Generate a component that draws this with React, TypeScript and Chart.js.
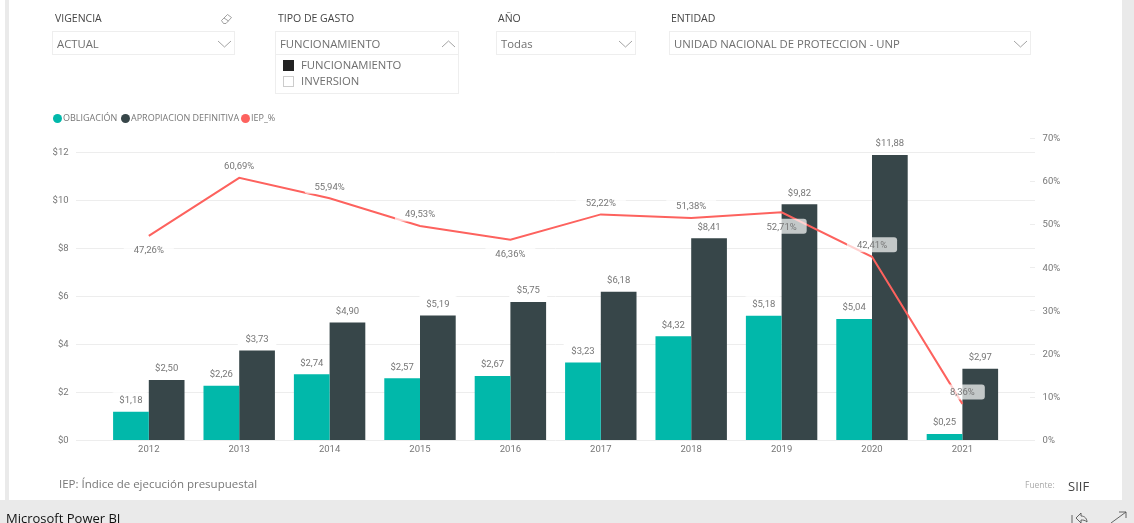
import React, { useEffect, useRef } from "react";
import { Chart, registerables } from "chart.js";

Chart.register(...registerables);

const years = ["2012", "2013", "2014", "2015", "2016", "2017", "2018", "2019", "2020", "2021"];
const obligacion = [1.18, 2.26, 2.74, 2.57, 2.67, 3.23, 4.32, 5.18, 5.04, 0.25];
const apropiacion = [2.5, 3.73, 4.9, 5.19, 5.75, 6.18, 8.41, 9.82, 11.88, 2.97];
const iep = [47.26, 60.69, 55.94, 49.53, 46.36, 52.22, 51.38, 52.71, 42.41, 8.36];
const iepBelow = [true, false, false, false, true, false, false, true, false, false];

const TEAL = "#01B8AA";
const DARK = "#374649";
const RED = "#FD625E";
const TXT = "#777777";
const LABEL_FONT = "9.5px Roboto";
const UI_FONT = "'Open Sans', sans-serif";

const comma = (v: number) => v.toFixed(2).replace(".", ",");

function labelBox(ctx: CanvasRenderingContext2D, cx: number, cy: number, w: number, fill: string, maxRight?: number) {
  const left = cx - w / 2;
  let width = w;
  if (maxRight !== undefined && left + width > maxRight) width = maxRight - left;
  ctx.fillStyle = fill;
  ctx.beginPath();
  (ctx as any).roundRect(left, cy - 7.5, width, 15, 3);
  ctx.fill();
}

const pbiPlugin = {
  id: "pbi",
  beforeDatasetsDraw(chart: any) {
    const { ctx, scales } = chart;
    const y = scales.y;
    const y1 = scales.y1;
    ctx.save();
    ctx.strokeStyle = "#EDEDED";
    ctx.lineWidth = 1;
    [0, 2, 4, 6, 8, 10, 12].forEach((v) => {
      const p = Math.round(y.getPixelForValue(v)) + 0.5;
      ctx.beginPath();
      ctx.moveTo(76, p);
      ctx.lineTo(1035, p);
      ctx.stroke();
    });
    [0, 10, 20, 30, 40, 50, 60, 70].forEach((v) => {
      const p = Math.round(y1.getPixelForValue(v)) + 0.5;
      ctx.beginPath();
      ctx.moveTo(1030, p);
      ctx.lineTo(1035, p);
      ctx.stroke();
    });
    ctx.font = LABEL_FONT;
    [0, 1].forEach((d) => {
      const meta = chart.getDatasetMeta(d);
      const vals = chart.data.datasets[d].data as number[];
      meta.data.forEach((bar: any, i: number) => {
        const t = "$" + comma(vals[i]);
        const w = ctx.measureText(t).width + 16;
        const center = scales.x.getPixelForValue(i);
        labelBox(ctx, bar.x, bar.y - 12, w, "#FFFFFF", d === 0 ? center : undefined);
      });
    });
    ctx.restore();
  },
  afterDatasetsDraw(chart: any) {
    const { ctx } = chart;
    ctx.save();
    ctx.font = LABEL_FONT;
    ctx.textAlign = "center";
    ctx.textBaseline = "middle";
    [0, 1].forEach((d) => {
      const meta = chart.getDatasetMeta(d);
      const vals = chart.data.datasets[d].data as number[];
      meta.data.forEach((bar: any, i: number) => {
        ctx.fillStyle = TXT;
        ctx.fillText("$" + comma(vals[i]), bar.x, bar.y - 11);
      });
    });
    const meta = chart.getDatasetMeta(2);
    meta.data.forEach((pt: any, i: number) => {
      const t = comma(iep[i]) + "%";
      const cy = iepBelow[i] ? pt.y + 14 : pt.y - 12;
      labelBox(ctx, pt.x, cy, ctx.measureText(t).width + 20, "rgba(255,255,255,0.7)");
      ctx.fillStyle = TXT;
      ctx.fillText(t, pt.x, cy + 1);
    });
    ctx.restore();
  },
};

const abs = (left: number, top: number, extra: React.CSSProperties = {}): React.CSSProperties => ({
  position: "absolute",
  left,
  top,
  whiteSpace: "nowrap",
  fontFamily: UI_FONT,
  ...extra,
});

function Chevron({ x, y, up }: { x: number; y: number; up?: boolean }) {
  return (
    <svg style={{ position: "absolute", left: x, top: y }} width={15} height={8}>
      <polyline points={up ? "1,7 7.5,1 14,7" : "1,1 7.5,7 14,1"} fill="none" stroke="#999999" strokeWidth={0.9} />
    </svg>
  );
}

function Slicer({ title, value, titleX, x, w, up }: { title: string; value: string; titleX: number; x: number; w: number; up?: boolean }) {
  return (
    <>
      <div style={abs(titleX, 10, { fontSize: 10.5, lineHeight: "16px", color: "#444" })}>{title}</div>
      <div style={{ position: "absolute", left: x, top: 31, width: w, height: 24, border: "1px solid #eeeeee", boxSizing: "border-box" }} />
      <div style={abs(x + 5, 36, { fontSize: 11.3, lineHeight: "16px", color: "#6f6f6f" })}>{value}</div>
      <Chevron x={x + w - 18} y={40} up={up} />
    </>
  );
}

export default function App() {
  const ref = useRef<HTMLCanvasElement>(null);
  useEffect(() => {
    const tickFont = { family: "Roboto", size: 9.5 };
    const chart = new Chart(ref.current!, {
      type: "bar",
      plugins: [pbiPlugin as any],
      data: {
        labels: years,
        datasets: [
          { type: "bar", label: "OBLIGACIÓN", data: obligacion, backgroundColor: TEAL, yAxisID: "y", order: 1, barPercentage: 1, categoryPercentage: 0.79 },
          { type: "bar", label: "APROPIACION DEFINITIVA", data: apropiacion, backgroundColor: DARK, yAxisID: "y", order: 2, barPercentage: 1, categoryPercentage: 0.79 },
          { type: "line", label: "IEP_%", data: iep, borderColor: RED, borderWidth: 2, pointRadius: 0, tension: 0, yAxisID: "y1", order: 0 },
        ],
      } as any,
      options: {
        animation: false,
        responsive: false,
        layout: { padding: { top: 137.6 } },
        plugins: { legend: { display: false }, tooltip: { enabled: false } },
        scales: {
          x: {
            grid: { display: false, drawTicks: false },
            border: { display: false },
            ticks: { color: TXT, font: tickFont, padding: 4, maxRotation: 0 },
            afterFit: (s: any) => { s.height = 60; },
          },
          y: {
            position: "left",
            min: 0,
            max: 12.6,
            grid: { display: false, drawTicks: false },
            border: { display: false },
            ticks: { stepSize: 2, includeBounds: false, color: TXT, font: tickFont, padding: 35, labelOffset: 1, callback: (v: any) => "$" + v },
            afterFit: (s: any) => { s.width = 103.6; },
          },
          y1: {
            position: "right",
            min: 0,
            max: 70,
            grid: { display: false, drawTicks: false },
            border: { display: false },
            ticks: { stepSize: 10, color: TXT, font: tickFont, padding: 35, labelOffset: 1, callback: (v: any) => v + "%" },
            afterFit: (s: any) => { s.width = 126.4; },
          },
        },
      } as any,
    });
    return () => chart.destroy();
  }, []);

  const legend = [
    { name: "OBLIGACIÓN", color: TEAL, dot: 57 },
    { name: "APROPIACION DEFINITIVA", color: DARK, dot: 125 },
    { name: "IEP_%", color: RED, dot: 245 },
  ];

  return (
    <div style={{ position: "absolute", left: 0, top: 0, width: 1134, height: 523, overflow: "hidden", background: "#fff", filter: "blur(0.35px)" }}>
      <div style={{ position: "absolute", left: 5, top: 0, width: 4, height: 500, background: "#eaeaea" }} />
      <div style={{ position: "absolute", left: 1122, top: 0, width: 12, height: 500, background: "#eaeaea" }} />
      <div style={{ position: "absolute", left: 0, top: 500, width: 1134, height: 23, background: "#eaeaea" }} />
      <canvas ref={ref} width={1134} height={500} style={{ position: "absolute", left: 0, top: 0, width: 1134, height: 500 }} />

      <Slicer title="VIGENCIA" value="ACTUAL" titleX={55} x={52} w={183} />
      <Slicer title="TIPO DE GASTO" value="FUNCIONAMIENTO" titleX={278} x={275} w={184} up />
      <Slicer title="AÑO" value="Todas" titleX={498} x={496} w={140} />
      <Slicer title="ENTIDAD" value="UNIDAD NACIONAL DE PROTECCION - UNP" titleX={671} x={669} w={362} />

      <svg style={{ position: "absolute", left: 220, top: 13 }} width={13} height={12}>
        <path d="M1.5,7.5 L7.5,1.5 L11.5,4.5 L6,10.5 L3.5,10.5 Z M4,5 L8.5,8" fill="none" stroke="#8a8a8a" strokeWidth={0.8} />
      </svg>

      <div style={{ position: "absolute", left: 275, top: 55, width: 184, height: 39, border: "1px solid #eeeeee", borderTop: "none", boxSizing: "border-box" }} />
      <div style={{ position: "absolute", left: 283, top: 60, width: 11, height: 11, background: "#222" }} />
      <div style={{ position: "absolute", left: 283, top: 76, width: 11, height: 11, border: "1px solid #ccc", boxSizing: "border-box" }} />
      <div style={abs(301, 57, { fontSize: 11.3, lineHeight: "16px", color: "#6f6f6f" })}>FUNCIONAMIENTO</div>
      <div style={abs(301, 73, { fontSize: 11.3, lineHeight: "16px", color: "#6f6f6f" })}>INVERSION</div>

      {legend.map((l) => (
        <React.Fragment key={l.name}>
          <div style={{ position: "absolute", left: l.dot - 4.5, top: 113.5, width: 9, height: 9, borderRadius: "50%", background: l.color }} />
          <div style={abs(l.dot + 6, 111, { fontSize: 9, lineHeight: "14px", color: "#777" })}>{l.name}</div>
        </React.Fragment>
      ))}

      <div style={abs(59, 475, { fontSize: 11.5, lineHeight: "18px", color: "#777" })}>IEP: Índice de ejecución presupuestal</div>
      <div style={abs(1025, 478, { fontSize: 8.5, lineHeight: "14px", color: "#aaa" })}>Fuente:</div>
      <div style={abs(1068, 476, { fontSize: 13, lineHeight: "20px", color: "#444" })}>SIIF</div>
      <div style={abs(6, 509, { fontSize: 13, lineHeight: "18px", color: "#111" })}>Microsoft Power BI</div>

      <svg style={{ position: "absolute", left: 1070, top: 510 }} width={60} height={13}>
        <path d="M2,5 V13 M6,8 L11,3 V6 C15,6 17,9 17,12 C15,10 13,10 11,10 V13 Z" fill="none" stroke="#555" strokeWidth={0.9} />
        <path d="M41,13 L56,2 M49,2 H56 V8" fill="none" stroke="#555" strokeWidth={0.9} />
      </svg>
    </div>
  );
}
